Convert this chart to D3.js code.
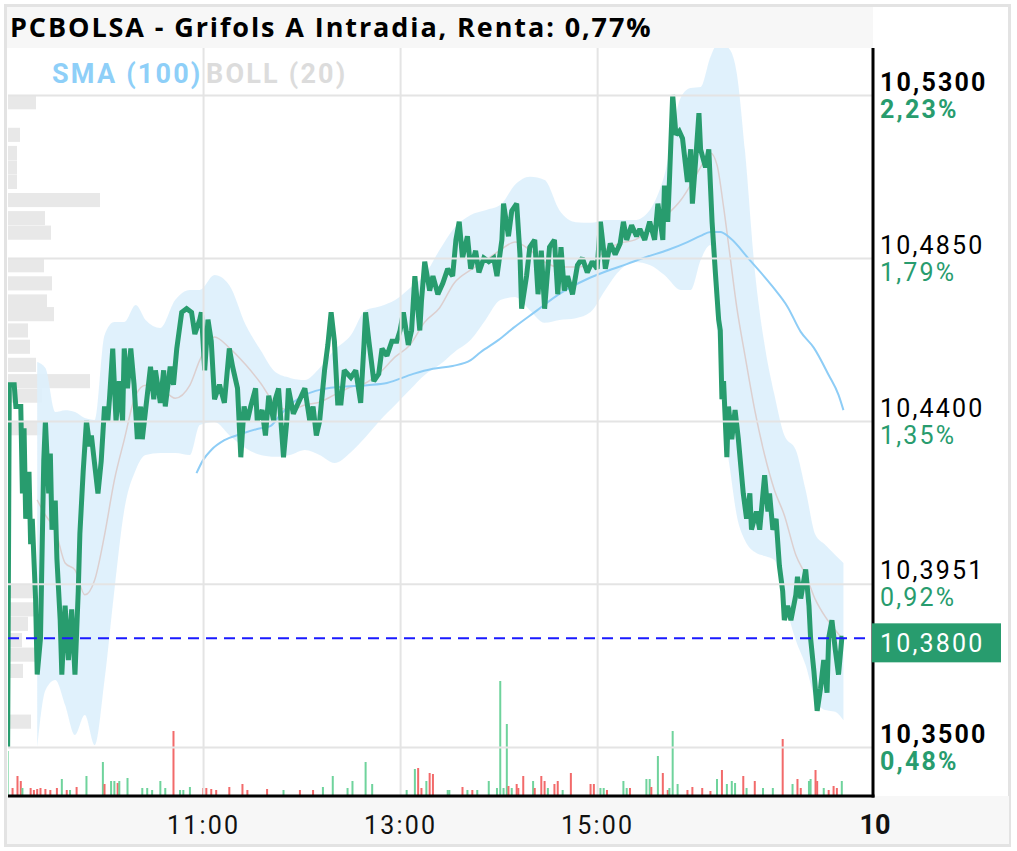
<!DOCTYPE html>
<html><head><meta charset="utf-8">
<script src="https://cdn.jsdelivr.net/npm/d3@7"></script>
<style>html,body{margin:0;padding:0;background:#fff;} svg{display:block;}</style>
</head><body>
<svg id="c" width="1017" height="851"></svg>
<script>
const title = "PCBOLSA - Grifols A Intradia, Renta: 0,77%";
const legendLabels = ["SMA (100)", "BOLL (20)"];
const priceTicks = [10.53, 10.485, 10.44, 10.3951, 10.35];
const priceTickLabels = ["10,5300", "10,4850", "10,4400", "10,3951", "10,3500"];
const pctTickLabels = ["2,23%", "1,79%", "1,35%", "0,92%", "0,48%"];
const boldTicks = [true, false, false, false, true];
const timeTickHours = [11, 13, 15];
const dayLabel = "10";
const lastPrice = 10.38;
const lastPriceLabel = "10,3800";

// price series: minutes after 09:00 and price
const priceMinutes = [1,2,5,6,9,10,11,12,14,15,16,18,19,21,23,24,26,27,28,30,31,33,34,36,38,40,42,44,45,47,49,51,52,54,56,58,60,62,63,65,67,69,71,72,74,76,78,80,82,83,85,88,90,91,94,96,97,100,102,104,107,110,113,115,118,119,121,123,125,127,130,133,136,138,141,143,145,147,149,152,153,156,158,160,163,164,166,169,171,172,175,177,180,182,185,187,189,191,194,196,198,200,202,204,206,210,213,216,218,219,221,224,227,229,232,235,238,240,242,245,247,249,252,253,255,258,260,263,266,269,272,274,276,278,281,283,286,288,291,294,297,299,302,303,306,308,311,313,314,317,319,322,324,326,328,331,334,336,338,340,342,345,348,351,354,357,360,362,364,365,368,371,374,376,378,381,384,386,389,392,395,397,400,401,403,404,406,408,410,412,414,415,417,418,420,422,423,426,428,430,432,434,435,436,437,439,440,442,444,446,449,451,453,454,457,459,462,464,465,467,469,471,473,474,476,478,481,482,484,487,489,490,492,494,496,498,500,501,503,505,507,509,510];
const priceValues = [10.350,10.450,10.450,10.444,10.444,10.420,10.438,10.413,10.426,10.406,10.413,10.391,10.370,10.380,10.429,10.440,10.420,10.431,10.410,10.418,10.402,10.385,10.370,10.389,10.374,10.388,10.370,10.393,10.409,10.426,10.440,10.433,10.436,10.428,10.420,10.429,10.444,10.440,10.446,10.460,10.440,10.451,10.440,10.460,10.449,10.460,10.450,10.435,10.444,10.435,10.443,10.455,10.446,10.454,10.445,10.454,10.444,10.455,10.450,10.460,10.470,10.471,10.470,10.464,10.468,10.470,10.454,10.468,10.462,10.446,10.450,10.445,10.460,10.455,10.449,10.430,10.444,10.440,10.444,10.449,10.440,10.443,10.436,10.447,10.440,10.446,10.449,10.430,10.440,10.449,10.442,10.444,10.447,10.449,10.440,10.444,10.436,10.440,10.454,10.461,10.470,10.462,10.445,10.445,10.454,10.452,10.454,10.445,10.461,10.470,10.462,10.451,10.453,10.460,10.458,10.462,10.462,10.465,10.470,10.461,10.465,10.480,10.465,10.473,10.484,10.476,10.480,10.475,10.478,10.482,10.480,10.490,10.495,10.485,10.491,10.482,10.487,10.481,10.485,10.484,10.485,10.480,10.490,10.500,10.491,10.498,10.500,10.486,10.471,10.480,10.488,10.490,10.475,10.487,10.471,10.488,10.490,10.475,10.488,10.476,10.480,10.475,10.483,10.485,10.481,10.484,10.482,10.495,10.487,10.482,10.489,10.486,10.489,10.495,10.490,10.494,10.491,10.493,10.490,10.495,10.490,10.500,10.490,10.505,10.495,10.506,10.530,10.519,10.520,10.518,10.510,10.506,10.515,10.500,10.512,10.525,10.515,10.510,10.515,10.495,10.481,10.468,10.465,10.446,10.451,10.430,10.444,10.435,10.443,10.435,10.420,10.413,10.420,10.410,10.415,10.410,10.425,10.415,10.420,10.410,10.413,10.400,10.393,10.385,10.389,10.385,10.392,10.397,10.391,10.399,10.389,10.380,10.371,10.360,10.366,10.374,10.365,10.380,10.385,10.377,10.370,10.380,10.380];

// SMA(100)
const smaMinutes = [116,120,125,133,143,153,161,167,175,183,191,203,220,232,248,260,272,283,289,300,309,323,337,354,366,378,390,403,415,423,429,435,441,453,467,476,484,492,501,507,510];
const smaValues = [10.4256,10.4292,10.4320,10.4347,10.4364,10.4378,10.4386,10.4417,10.4452,10.4474,10.4486,10.4494,10.4499,10.4505,10.4530,10.4544,10.4552,10.4568,10.4590,10.4624,10.4657,10.4704,10.4751,10.4792,10.4814,10.4833,10.4853,10.4872,10.4894,10.4911,10.4922,10.4922,10.4905,10.4844,10.4770,10.4715,10.4646,10.4602,10.4527,10.4472,10.4430];

// BOLL(20)
const bollMinutes = [19,24,30,36,42,48,54,60,66,72,79,85,94,103,112,118,127,136,146,155,164,173,182,191,200,210,219,228,237,246,255,264,273,283,292,301,310,319,328,337,347,356,365,374,383,392,401,411,417,423,429,433,437,441,445,450,456,462,468,474,481,487,493,499,505,510];
const bollUpper = [10.4563,10.4546,10.4425,10.4430,10.4425,10.4408,10.4403,10.4637,10.4673,10.4673,10.4720,10.4679,10.4657,10.4734,10.4762,10.4762,10.4803,10.4775,10.4665,10.4596,10.4535,10.4519,10.4513,10.4546,10.4596,10.4637,10.4706,10.4717,10.4734,10.4767,10.4803,10.4872,10.4933,10.4969,10.4982,10.4996,10.5052,10.5074,10.5065,10.4982,10.4949,10.4947,10.4955,10.4955,10.4955,10.4982,10.5079,10.5294,10.5319,10.5322,10.5405,10.5438,10.5438,10.5424,10.5361,10.5148,10.4817,10.4610,10.4472,10.4361,10.4320,10.4209,10.4085,10.4058,10.4030,10.4008];
const bollMiddle = [10.4182,10.4140,10.4099,10.4008,10.3989,10.3920,10.3961,10.4085,10.4237,10.4348,10.4472,10.4499,10.4491,10.4463,10.4499,10.4568,10.4632,10.4602,10.4555,10.4505,10.4447,10.4430,10.4444,10.4452,10.4472,10.4494,10.4505,10.4535,10.4577,10.4610,10.4673,10.4712,10.4781,10.4817,10.4844,10.4872,10.4894,10.4872,10.4839,10.4825,10.4825,10.4831,10.4872,10.4891,10.4900,10.4927,10.4963,10.5010,10.5052,10.5101,10.5140,10.5107,10.4991,10.4853,10.4715,10.4582,10.4430,10.4306,10.4209,10.4140,10.4030,10.3975,10.3906,10.3859,10.3823,10.3795];
const bollLower = [10.3500,10.3657,10.3685,10.3616,10.3533,10.3588,10.3505,10.3685,10.3933,10.4154,10.4265,10.4306,10.4312,10.4312,10.4306,10.4389,10.4397,10.4361,10.4325,10.4306,10.4301,10.4306,10.4320,10.4306,10.4284,10.4314,10.4356,10.4403,10.4444,10.4486,10.4527,10.4555,10.4590,10.4624,10.4679,10.4734,10.4742,10.4706,10.4671,10.4679,10.4684,10.4701,10.4762,10.4817,10.4839,10.4831,10.4803,10.4762,10.4762,10.4844,10.4886,10.4651,10.4403,10.4265,10.4140,10.4071,10.4038,10.4027,10.4016,10.3906,10.3795,10.3726,10.3630,10.3602,10.3597,10.3574];

// volume per minute (1 = up, 0 = down)
const volMinutes = [1,4,7,9,10,15,17,19,21,24,27,31,34,37,39,43,49,59,60,64,66,68,69,74,83,86,89,94,97,102,106,108,112,120,122,125,128,136,144,147,159,169,179,187,193,199,208,211,219,223,244,249,251,253,256,258,260,269,270,278,281,284,287,294,299,301,303,305,306,308,311,312,315,321,322,326,328,330,334,336,339,344,356,358,362,364,366,376,378,380,390,392,393,397,400,403,404,406,409,415,418,424,429,433,436,439,442,444,449,451,456,461,467,473,479,482,484,489,490,493,494,498,501,504,506,509];
const volValues = [4500,800,2000,1500,800,800,600,700,800,700,600,800,1700,600,600,900,2000,3400,1200,1500,1500,1300,1500,1800,800,800,600,1500,800,6500,600,600,900,800,800,700,600,900,1200,600,700,600,600,600,900,2000,800,1500,3400,1200,600,2700,2800,800,1500,2300,2200,600,600,900,600,600,600,1500,800,11500,800,7200,1000,800,1200,800,2000,1500,800,2000,1500,800,1200,1500,600,2300,1200,1200,800,800,600,1500,800,800,1700,1700,900,4000,2300,600,800,6500,1200,600,900,800,500,1700,2600,1200,1500,1300,2000,800,1500,800,800,5700,1200,1700,800,1500,1700,2600,1500,800,600,1000,800,1500];
const volUp = [1,0,0,0,1,0,0,0,0,0,0,0,1,0,1,0,1,1,0,1,1,0,1,1,1,1,1,1,1,0,1,1,1,0,0,0,0,0,0,0,0,1,0,0,1,1,1,1,1,1,1,1,0,0,1,0,0,1,1,0,1,0,1,1,1,1,1,1,0,1,0,0,0,1,0,0,0,1,0,0,1,0,0,0,1,1,0,1,1,0,1,1,0,1,0,0,1,1,1,0,0,0,0,1,0,1,1,1,0,1,0,1,1,0,1,0,0,1,1,0,0,1,0,0,0,1];

// volume profile by price level
const profileLevels = [10.528,10.519,10.514,10.510,10.506,10.501,10.496,10.492,10.483,10.478,10.473,10.4695,10.465,10.4605,10.4555,10.451,10.447,10.438,10.393,10.388,10.384,10.3795,10.3755,10.371,10.357];
const profileVolumes = [28000,12000,9000,9000,9000,92000,37000,43000,36000,44000,39000,46000,20000,22000,28000,82000,34000,38000,27000,27000,20000,14000,27000,15000,23000];

// ---------------- drawing ----------------
const svg = d3.select("#c");
const L = 8, R = 873, T = 48, B = 796;
const tm = m => new Date(2024, 0, 10, 9, m);
const x = d3.scaleTime().domain([tm(0), tm(528)]).range([6, 873]);
const y = d3.scaleLinear().domain([10.35, 10.53]).range([747, 95]);
const yVol = d3.scaleLinear().domain([0, 12000]).range([B, B - 120]);
const xProf = d3.scaleLinear().domain([0, 100000]).range([L, L + 100]);
const profH = 0.0039;

const GREEN = "#289c6e";
const LS = 2.2;

// frame
svg.append("rect").attr("x", 5.5).attr("y", 5.5).attr("width", 1004).attr("height", 840)
  .attr("fill", "#fff").attr("stroke", "#e3e3e3").attr("stroke-width", 3);
svg.append("rect").attr("x", 7).attr("y", 7).attr("width", R - 7).attr("height", T - 7).attr("fill", "#f7f7f7");
svg.append("rect").attr("x", 7).attr("y", B).attr("width", 1002).attr("height", 844 - B).attr("fill", "#f7f7f7");

svg.append("defs").append("clipPath").attr("id", "plotclip")
  .append("rect").attr("x", L).attr("y", T).attr("width", R - L).attr("height", B - T);
const plot = svg.append("g").attr("clip-path", "url(#plotclip)");

// volume profile
plot.append("g").selectAll("rect").data(profileLevels).join("rect")
  .attr("x", L)
  .attr("y", d => y(d + profH / 2))
  .attr("width", (d, i) => xProf(profileVolumes[i]) - L)
  .attr("height", d => y(d - profH / 2) - y(d + profH / 2))
  .attr("fill", "#e8e8e8");

// bollinger band fill
const boll = bollMinutes.map((m, i) => ({ t: tm(m), u: bollUpper[i], m: bollMiddle[i], l: bollLower[i] }));
plot.append("path").datum(boll)
  .attr("d", d3.area().x(d => x(d.t)).y0(d => y(d.l)).y1(d => y(d.u)).curve(d3.curveMonotoneX))
  .attr("fill", "#ddeffc").attr("opacity", 0.9);

// gridlines
const gy = svg.append("g").attr("transform", `translate(${R},0)`)
  .call(d3.axisLeft(y).tickValues(priceTicks).tickSize(R - L).tickFormat(""));
gy.select(".domain").remove();
gy.selectAll("line").attr("stroke", "#e4e4e4").attr("stroke-width", 2);
const gx = svg.append("g").attr("transform", `translate(0,${B})`)
  .call(d3.axisTop(x).tickValues(timeTickHours.map(h => tm((h - 9) * 60))).tickSize(B - T).tickFormat(""));
gx.select(".domain").remove();
gx.selectAll("line").attr("stroke", "#e4e4e4").attr("stroke-width", 2);

// bollinger middle
plot.append("path").datum(boll)
  .attr("d", d3.line().x(d => x(d.t)).y(d => y(d.m)).curve(d3.curveMonotoneX))
  .attr("fill", "none").attr("stroke", "#dccfcf").attr("stroke-width", 1.5);

// volume bars
plot.append("g").selectAll("rect").data(volMinutes).join("rect")
  .attr("x", d => x(tm(d)) - 1)
  .attr("y", (d, i) => yVol(volValues[i]))
  .attr("width", 2)
  .attr("height", (d, i) => B - yVol(volValues[i]))
  .attr("fill", (d, i) => volUp[i] ? "#6fd39c" : "#f26a6a");

// SMA
const sma = smaMinutes.map((m, i) => ({ t: tm(m), v: smaValues[i] }));
plot.append("path").datum(sma)
  .attr("d", d3.line().x(d => x(d.t)).y(d => y(d.v)).curve(d3.curveMonotoneX))
  .attr("fill", "none").attr("stroke", "#8ecdf6").attr("stroke-width", 2);

// price
const price = priceMinutes.map((m, i) => ({ t: tm(m), v: priceValues[i] }));
plot.append("path").datum(price)
  .attr("d", d3.line().x(d => x(d.t)).y(d => y(d.v)))
  .attr("fill", "none").attr("stroke", GREEN).attr("stroke-width", 5)
  .attr("stroke-linejoin", "miter").attr("stroke-miterlimit", 2);

// last price dashed line
svg.append("line").attr("x1", L).attr("x2", R).attr("y1", y(lastPrice)).attr("y2", y(lastPrice))
  .attr("stroke", "#1a1aff").attr("stroke-width", 2).attr("stroke-dasharray", "11,7");

// axis lines
svg.append("line").attr("x1", R).attr("x2", R).attr("y1", T).attr("y2", B + 1.5).attr("stroke", "#000").attr("stroke-width", 3);
svg.append("line").attr("x1", L).attr("x2", R + 1.5).attr("y1", B).attr("y2", B).attr("stroke", "#000").attr("stroke-width", 3);

// right price axis labels
const ay = svg.append("g").attr("transform", `translate(${R},0)`)
  .call(d3.axisRight(y).tickValues(priceTicks).tickSize(0).tickPadding(7));
ay.select(".domain").remove();
ay.selectAll(".tick text").each(function (d, i) {
  const t = d3.select(this);
  t.text(null).attr("dy", null).attr("y", 0).attr("x", 7)
    .attr("font-family", "Roboto").attr("font-size", 25).attr("letter-spacing", LS)
    .attr("text-anchor", "start").attr("font-weight", boldTicks[i] ? "bold" : "normal");
  t.append("tspan").attr("x", 7).attr("y", -5).attr("fill", "#000").text(priceTickLabels[i]);
  t.append("tspan").attr("x", 7).attr("y", 22).attr("fill", GREEN).text(pctTickLabels[i]);
});

// last price box
const ly = y(lastPrice);
svg.append("rect").attr("x", R - 1).attr("y", ly - 15).attr("width", 129).attr("height", 39).attr("fill", GREEN);
svg.append("text").attr("x", 880).attr("y", ly + 14).attr("fill", "#fff")
  .attr("font-family", "Roboto").attr("font-size", 25).attr("letter-spacing", LS).text(lastPriceLabel);

// x axis labels
const ax = svg.append("g").attr("transform", `translate(0,${B})`)
  .call(d3.axisBottom(x).tickValues(timeTickHours.map(h => tm((h - 9) * 60)))
    .tickFormat(d3.timeFormat("%H:%M")).tickSize(0).tickPadding(0));
ax.select(".domain").remove();
ax.selectAll(".tick text").attr("dy", null).attr("y", 38)
  .attr("font-family", "Roboto").attr("font-size", 25).attr("letter-spacing", LS).attr("fill", "#111");
svg.append("text").attr("x", R + 2).attr("y", B + 38).attr("text-anchor", "middle")
  .attr("font-family", "Roboto").attr("font-size", 27).attr("font-weight", "bold").attr("fill", "#111").text(dayLabel);

// title
svg.append("text").attr("x", 10).attr("y", 37).attr("font-family", "Open Sans").attr("font-weight", "bold")
  .attr("font-size", 27).attr("letter-spacing", 1.9).attr("fill", "#000").text(title);

// legend
svg.append("text").attr("x", 52).attr("y", 83).attr("font-family", "Roboto").attr("font-weight", "bold")
  .attr("font-size", 27).attr("letter-spacing", 2.2).attr("fill", "#8ecff8").text(legendLabels[0]);
svg.append("text").attr("x", 206).attr("y", 83).attr("font-family", "Roboto").attr("font-weight", "bold")
  .attr("font-size", 27).attr("letter-spacing", 2.2).attr("fill", "#dcdcdc").text(legendLabels[1]);
</script>
</body></html>
